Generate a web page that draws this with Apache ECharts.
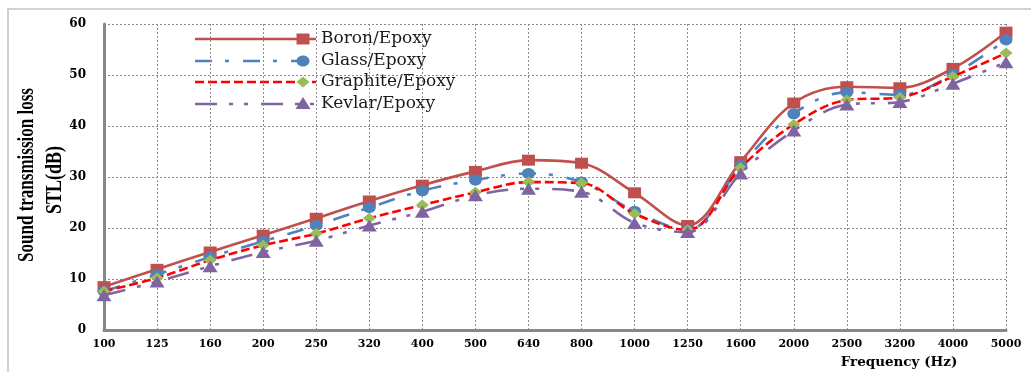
<!DOCTYPE html>
<html>
<head>
<meta charset="utf-8">
<script src="https://cdn.jsdelivr.net/npm/echarts@6/dist/echarts.min.js"></script>
<style>
html,body{margin:0;padding:0;background:#fff;}
#chart{width:1031px;height:372px;}
</style>
</head>
<body>
<div id="chart"></div>
<script>
var frequencies = ['100','125','160','200','250','320','400','500','640','800','1000','1250','1600','2000','2500','3200','4000','5000'];
var boronEpoxy    = [8.5, 11.9, 15.3, 18.6, 21.9, 25.3, 28.4, 31.1, 33.3, 32.7, 26.9, 20.5, 33.0, 44.5, 47.7, 47.5, 51.3, 58.4];
var glassEpoxy    = [7.6, 10.9, 14.3, 17.4, 20.5, 24.0, 27.3, 29.4, 30.7, 29.0, 23.3, 19.6, 32.2, 42.4, 46.6, 46.1, 50.1, 56.9];
var graphiteEpoxy = [7.6, 10.2, 13.7, 16.6, 18.9, 21.9, 24.5, 27.0, 29.0, 28.8, 22.8, 19.6, 31.8, 40.3, 45.1, 45.6, 49.7, 54.3];
var kevlarEpoxy   = [6.8,  9.5, 12.5, 15.3, 17.5, 20.5, 23.2, 26.4, 27.7, 27.1, 21.0, 19.2, 30.7, 39.1, 44.2, 44.7, 48.3, 52.5];
var seriesNames = ['Boron/Epoxy', 'Glass/Epoxy', 'Graphite/Epoxy', 'Kevlar/Epoxy'];
var yTitleLines = ['Sound transmission loss', 'STL(dB)'];
var xTitle = 'Frequency (Hz)';

var chart = echarts.init(document.getElementById('chart'), null, {renderer: 'canvas'});

var styles = [
  {line: '#C0504D', marker: '#C0504D', dash: 'solid', symbol: 'rect', size: [13, 11]},
  {line: '#4F81BD', marker: '#4F81BD', dash: [17, 13, 4, 14], symbol: 'circle', size: [13, 11]},
  {line: '#FF0000', marker: '#9BBB59', dash: [9, 4], symbol: 'diamond', size: [13, 11]},
  {line: '#8064A2', marker: '#8064A2', dash: [22, 12, 4, 11, 4, 13], symbol: 'triangle', size: [15, 12]}
];
var datasets = [boronEpoxy, glassEpoxy, graphiteEpoxy, kevlarEpoxy];

var series = datasets.map(function (d, i) {
  var s = styles[i];
  return {
    name: seriesNames[i],
    type: 'line',
    data: d,
    smooth: 0.35,
    symbol: s.symbol,
    symbolSize: s.size,
    showSymbol: true,
    lineStyle: {color: s.line, width: 2.6, type: s.dash},
    itemStyle: {color: s.marker, borderWidth: 0},
    emphasis: {disabled: true},
    z: 2 + i
  };
});

// legend drawn as graphic elements (line sample + marker at right end + label)
var legendRows = [39, 61, 82, 104];
var legendGraphics = [];
seriesNames.forEach(function (name, i) {
  var s = styles[i];
  var y = legendRows[i];
  legendGraphics.push({
    type: 'line', shape: {x1: 195, y1: y, x2: 316, y2: y},
    style: {stroke: s.line, lineWidth: 2.6, lineDash: s.dash === 'solid' ? null : s.dash}
  });
  var mx = 303;
  var mk;
  if (s.symbol === 'rect') {
    mk = {type: 'rect', shape: {x: mx - 6.5, y: y - 5.5, width: 13, height: 11}, style: {fill: s.marker}};
  } else if (s.symbol === 'circle') {
    mk = {type: 'ellipse', shape: {cx: mx, cy: y, rx: 6.5, ry: 5.5}, style: {fill: s.marker}};
  } else if (s.symbol === 'diamond') {
    mk = {type: 'polygon', shape: {points: [[mx, y - 5.5], [mx + 6.5, y], [mx, y + 5.5], [mx - 6.5, y]]}, style: {fill: s.marker}};
  } else {
    mk = {type: 'polygon', shape: {points: [[mx, y - 7], [mx + 7.5, y + 5], [mx - 7.5, y + 5]]}, style: {fill: s.marker}};
  }
  legendGraphics.push(mk);
  legendGraphics.push({
    type: 'text', x: 321, y: y,
    style: {text: name, font: '17px "DejaVu Serif"', fill: '#1a1a1a', textAlign: 'left', textVerticalAlign: 'middle'}
  });
});

var graphics = [
  {type: 'rect', shape: {x: 8, y: 9, width: 1100, height: 500}, style: {fill: 'none', stroke: '#d2d2d2', lineWidth: 2}, z: -10, silent: true},
  {type: 'text', x: 27, y: 175, rotation: Math.PI / 2, scaleY: 1.3,
   style: {text: yTitleLines[0], font: 'bold 17px "Liberation Serif"', fill: '#000', textAlign: 'center', textVerticalAlign: 'middle'}},
  {type: 'text', x: 55, y: 180, rotation: Math.PI / 2, scaleY: 1.3,
   style: {text: yTitleLines[1], font: 'bold 18px "Liberation Serif"', fill: '#000', textAlign: 'center', textVerticalAlign: 'middle'}},
  {type: 'text', x: 899, y: 362,
   style: {text: xTitle, font: 'bold 13.5px "DejaVu Serif"', fill: '#000', textAlign: 'center', textVerticalAlign: 'middle'}}
].concat(legendGraphics);

var option = {
  backgroundColor: '#ffffff',
  animation: false,
  grid: {left: 104, right: 25, top: 24, bottom: 42, containLabel: false},
  xAxis: {
    type: 'category',
    data: frequencies,
    boundaryGap: false,
    axisLine: {show: true, lineStyle: {color: '#878787', width: 3}},
    axisTick: {show: false},
    axisLabel: {color: '#000', fontFamily: 'DejaVu Serif', fontWeight: 'bold', fontSize: 11, margin: 9, interval: 0},
    splitLine: {show: true, lineStyle: {color: '#8a8a8a', width: 1, type: [2, 2]}}
  },
  yAxis: {
    type: 'value',
    min: 0, max: 60, interval: 10,
    axisLine: {show: true, lineStyle: {color: '#878787', width: 3}},
    axisTick: {show: false},
    axisLabel: {color: '#000', fontFamily: 'DejaVu Serif', fontWeight: 'bold', fontSize: 12, margin: 18},
    splitLine: {show: true, lineStyle: {color: '#8a8a8a', width: 1, type: [2, 2]}}
  },
  series: series,
  graphic: graphics
};
chart.setOption(option);
</script>
</body>
</html>
